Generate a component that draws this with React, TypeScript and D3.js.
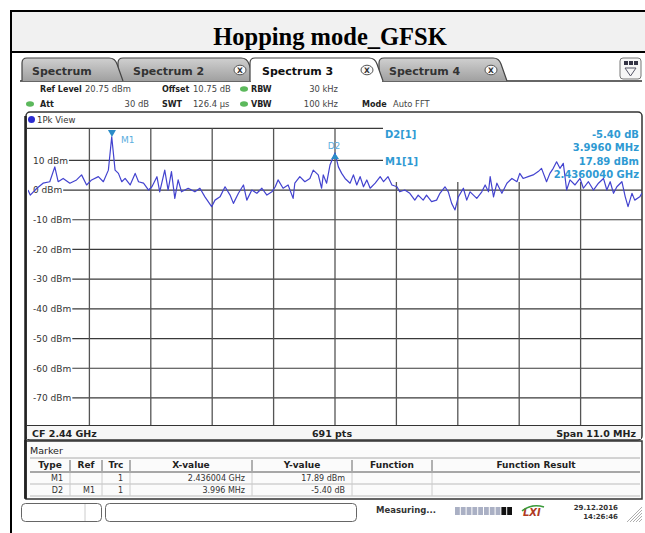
import React from "react";
import * as d3 from "d3";

// ---- data ----
const freqMHz = [
  2434.5, 2434.54, 2434.66, 2434.77, 2434.89, 2434.98, 2435.04, 2435.13, 2435.25, 2435.37,
  2435.46, 2435.55, 2435.64, 2435.76, 2435.85, 2435.94, 2436.0, 2436.06, 2436.12, 2436.18,
  2436.24, 2436.33, 2436.42, 2436.48, 2436.57, 2436.66, 2436.72, 2436.81, 2436.86, 2436.95,
  2437.01, 2437.07, 2437.13, 2437.19, 2437.25, 2437.37, 2437.49, 2437.58, 2437.67, 2437.79,
  2437.85, 2437.94, 2438.03, 2438.12, 2438.18, 2438.27, 2438.36, 2438.42, 2438.51, 2438.6,
  2438.69, 2438.78, 2438.87, 2438.93, 2438.98, 2439.07, 2439.16, 2439.25, 2439.28, 2439.37,
  2439.46, 2439.55, 2439.61, 2439.7, 2439.76, 2439.79, 2439.85, 2439.91, 2440.0, 2440.06,
  2440.12, 2440.18, 2440.27, 2440.33, 2440.39, 2440.45, 2440.51, 2440.57, 2440.63, 2440.72,
  2440.81, 2440.87, 2440.95, 2441.02, 2441.11, 2441.16, 2441.25, 2441.34, 2441.43, 2441.49,
  2441.58, 2441.64, 2441.73, 2441.82, 2441.88, 2441.97, 2442.03, 2442.09, 2442.15, 2442.21,
  2442.3, 2442.36, 2442.42, 2442.48, 2442.54, 2442.63, 2442.69, 2442.75, 2442.78, 2442.84,
  2442.9, 2442.99, 2443.08, 2443.17, 2443.26, 2443.31, 2443.37, 2443.46, 2443.55, 2443.64,
  2443.7, 2443.79, 2443.85, 2443.91, 2443.97, 2444.03, 2444.09, 2444.15, 2444.21, 2444.3,
  2444.39, 2444.45, 2444.54, 2444.63, 2444.72, 2444.81, 2444.87, 2444.93, 2444.99, 2445.05,
  2445.14, 2445.2, 2445.25, 2445.32, 2445.37, 2445.46, 2445.5,
];
const levelDbm = [
  0.0, -1.7, 0.6, 2.3, 2.8, 7.8, 2.8, 3.9, 2.3, 3.4,
  5.1, 1.7, 3.4, 4.5, 2.8, 6.7, 17.89, 6.7, 5.6, 2.8,
  3.9, 1.7, 5.6, 2.8, 2.3, 0.0, 1.1, 4.5, -0.6, 6.7,
  0.0, 6.2, -2.8, 3.4, -0.6, 0.6, -0.6, 0.6, -2.3, -5.6,
  -3.4, -2.3, 1.1, -1.7, -4.5, -1.1, 1.7, -3.4, 0.0, -1.1,
  0.6, -1.7, -0.6, 1.1, 3.4, 0.6, 1.7, -2.8, 2.3, 4.5,
  2.8, 3.9, 6.7, 5.1, 0.6, 5.1, 2.3, 8.4, 12.49, 7.8,
  5.6, 3.9, 2.3, 5.1, 1.7, 4.5, 1.1, 3.4, 0.6, 2.3,
  4.5, 2.8, 4.5, 1.7, 1.1, -0.6, 0.0, -1.1, -3.4, -1.7,
  -3.4, -1.7, -3.9, -3.4, -1.1, 1.1, -0.6, -4.5, -6.7, -2.3,
  0.6, -3.4, -0.6, -1.7, -2.8, -0.6, 1.7, -0.6, 4.5, -2.3,
  2.3, -1.1, 2.3, 3.9, 2.8, 5.6, 3.9, 4.5, 5.1, 6.2,
  7.3, 2.8, 5.6, 7.3, 9.5, 7.3, 9.0, 0.0, 3.4, 1.7,
  3.9, 0.6, 2.8, 0.0, 2.3, 3.9, 0.0, 2.8, -1.1, 1.1,
  2.8, -2.3, -5.6, -1.1, -3.4, -2.3, -1.0,
];
const yTickValues = [10, 0, -10, -20, -30, -40, -50, -60, -70];
const refLevel = 20.75;
const rangeDb = 100;
const centerMHz = 2440;
const spanMHz = 11;
const xDivisions = 10;
const markerNames = ["M1", "D2"];
const markerFreqMHz = [2436.004, 2440.0];
const markerLevels = [17.89, 12.49];
const markerInfoLeft = ["D2[1]", "", "M1[1]", ""];
const markerInfoRight = ["-5.40 dB", "3.9960 MHz", "17.89 dBm", "2.4360040 GHz"];
const tabLabels = ["Spectrum", "Spectrum 2", "Spectrum 3", "Spectrum 4"];
const tableHeaders = ["Type", "Ref", "Trc", "X-value", "Y-value", "Function", "Function Result"];
const tableRows = [
  ["M1", "", "1", "2.436004 GHz", "17.89 dBm", "", ""],
  ["D2", "M1", "1", "3.996 MHz", "-5.40 dB", "", ""],
];

const SANS = "DejaVu Sans, Verdana, sans-serif";
const TRACE = "#4343cf";
const MARK = "#2f9ad3";

export default function App() {
  const x = d3.scaleLinear().domain([centerMHz - spanMHz / 2, centerMHz + spanMHz / 2]).range([28, 642]);
  const y = d3.scaleLinear().domain([refLevel - rangeDb, refLevel]).range([425.4, 128.4]);
  const pts: [number, number][] = [];
  const n = Math.min(freqMHz.length, levelDbm.length);
  for (let i = 0; i < n; i++) pts.push([freqMHz[i], levelDbm[i]]);
  const line = d3.line<[number, number]>().x((d) => x(d[0])).y((d) => y(d[1]));
  const vGrid = d3.range(1, xDivisions).map((i) => centerMHz - spanMHz / 2 + (i * spanMHz) / xDivisions);

  const tabs = [
    { x0: 22, x1: 123 },
    { x0: 118, x1: 255 },
    { x0: 250, x1: 383 },
    { x0: 379, x1: 507 },
  ];
  const tabPath = (x0: number, x1: number) =>
    `M${x0},81 L${x0},63 Q${x0},58 ${x0 + 5},58 L${x1 - 14},58 Q${x1 - 8},58 ${x1 - 6},64 L${x1},81`;

  const colX = [30, 70, 102, 130, 252, 352, 432, 640];
  const colAlign = ["end", "end", "end", "end", "end", "middle", "middle"];

  return (
    <svg
      width={645}
      height={533}
      style={{ position: "absolute", left: 0, top: 0, background: "#fff" }}
      fontFamily={SANS}
    >
      <defs>
        <linearGradient id="tabg" x1="0" x2="0" y1="0" y2="1">
          <stop offset="0" stopColor="#d0d0d0" />
          <stop offset="1" stopColor="#a0a0a0" />
        </linearGradient>
        <clipPath id="plotclip">
          <rect x={28} y={128.4} width={614} height={297} />
        </clipPath>
      </defs>

      {/* Outer document frame and title */}
      <rect x={11} y={11} width={640} height={40} fill="#f1f1f1" />
      <rect x={11} y={11} width={640} height={530} fill="none" stroke="#000" strokeWidth={2} />
      <line x1={11} x2={651} y1={52} y2={52} stroke="#000" strokeWidth={2} />
      <text x={330} y={45} textAnchor="middle" fontFamily="Liberation Serif, Times New Roman, serif" fontWeight="bold" fontSize={24.5}>
        Hopping mode_GFSK
      </text>

      {/* Tabs */}
      <line x1={20} x2={642} y1={81} y2={81} stroke="#333" strokeWidth={1.5} />
      {[3, 1, 0].map((i) => (
        <path key={i} d={tabPath(tabs[i].x0, tabs[i].x1)} fill="url(#tabg)" stroke="#444" strokeWidth={1.2} />
      ))}
      <path d={tabPath(tabs[2].x0, tabs[2].x1)} fill="#fff" stroke="#444" strokeWidth={1.2} />
      <rect x={tabs[2].x0 + 1} y={80} width={tabs[2].x1 - tabs[2].x0 - 2} height={3} fill="#fff" />
      {tabLabels.map((t, i) => (
        <text key={t} x={[32, 133, 262, 389][i]} y={75} fontSize={11} fontWeight="bold" fill={i === 2 ? "#111" : "#333"}>
          {t}
        </text>
      ))}
      {[240, 367, 491].map((cx) => (
        <g key={cx}>
          <ellipse cx={cx} cy={70} rx={6} ry={4.8} fill="#fafafa" stroke="#555" strokeWidth={1} />
          <text x={cx} y={73} fontSize={7.5} textAnchor="middle" fontWeight="bold" fill="#333">
            X
          </text>
        </g>
      ))}
      <rect x={620} y={58} width={21} height={21} rx={3} fill="#f6f6f6" stroke="#777" strokeWidth={1} />
      {[624, 629, 634].map((sx) => (
        <rect key={sx} x={sx} y={61} width={4} height={4} fill="#334" />
      ))}
      <path d="M625,68 L636,68 L630.5,76 Z" fill="none" stroke="#556" strokeWidth={1} />

      {/* Setting lines */}
      <g fontSize={8.4} fill="#444">
        <text x={40} y={92} fontWeight="bold" fontSize={8} fill="#222">Ref Level</text>
        <text x={85} y={92}>20.75 dBm</text>
        <text x={162} y={92} fontWeight="bold" fontSize={8} fill="#222">Offset</text>
        <text x={193} y={92}>10.75 dB</text>
        <text x={251} y={92} fontWeight="bold" fontSize={8} fill="#222">RBW</text>
        <text x={338} y={92} textAnchor="end">30 kHz</text>
        <text x={40} y={107} fontWeight="bold" fontSize={8} fill="#222">Att</text>
        <text x={149} y={107} textAnchor="end">30 dB</text>
        <text x={162} y={107} fontWeight="bold" fontSize={8} fill="#222">SWT</text>
        <text x={193} y={107}>126.4 µs</text>
        <text x={251} y={107} fontWeight="bold" fontSize={8} fill="#222">VBW</text>
        <text x={338} y={107} textAnchor="end">100 kHz</text>
        <text x={362} y={107} fontWeight="bold" fontSize={8} fill="#222">Mode</text>
        <text x={393} y={107}>Auto FFT</text>
      </g>
      <ellipse cx={244} cy={89} rx={4} ry={2.8} fill="#5cb85c" />
      <ellipse cx={244} cy={104} rx={4} ry={2.8} fill="#5cb85c" />
      <ellipse cx={30} cy={104} rx={4} ry={2.8} fill="#5cb85c" />

      {/* Plot panel */}
      <rect x={26} y={112} width={616} height={328} rx={4} fill="#fff" stroke="#333" strokeWidth={1.5} />
      <line x1={25.5} x2={25.5} y1={116} y2={498} stroke="#222" strokeWidth={2.5} />
      <circle cx={31.5} cy={119.5} r={3.5} fill="#2b2bd0" />
      <text x={37} y={123} fontSize={8.5} fill="#333">1Pk View</text>

      {/* horizontal grid + labels */}
      {yTickValues.map((v) => {
        const lab = `${v} dBm`;
        const w = String(Math.abs(v)).length * 5.7 + (v < 0 ? 3.4 : 0) + 23.5;
        const endX = v === 10 ? 383 : 642;
        return (
          <g key={v}>
            <line x1={33 + w + 1} x2={endX} y1={y(v)} y2={y(v)} stroke="#3a3a3a" strokeWidth={1.2} />
            <text x={33} y={y(v) + 3.3} fontSize={9} fill="#333">
              {lab}
            </text>
          </g>
        );
      })}
      <line x1={26} x2={383} y1={y(refLevel)} y2={y(refLevel)} stroke="#3a3a3a" strokeWidth={1.2} />
      {vGrid.map((f) => (
        <line
          key={f}
          x1={x(f)}
          x2={x(f)}
          y1={x(f) > 383 ? 182 : y(refLevel)}
          y2={425}
          stroke="#555"
          strokeWidth={1.3}
        />
      ))}

      {/* marker info */}
      <g fontSize={10} fontWeight="bold" fill={MARK}>
        {markerInfoLeft.map((t, i) => (
          <text key={"l" + i} x={385} y={138 + i * 13.4}>
            {t}
          </text>
        ))}
        {markerInfoRight.map((t, i) => (
          <text key={"r" + i} x={639} y={138 + i * 13.4} textAnchor="end">
            {t}
          </text>
        ))}
      </g>

      {/* trace */}
      <path d={line(pts) || ""} fill="none" stroke={TRACE} strokeWidth={1.2} clipPath="url(#plotclip)" strokeLinejoin="round" />

      {/* markers */}
      {markerNames.map((m, i) => {
        const mx = x(markerFreqMHz[i]);
        const my = y(markerLevels[i]);
        return i === 0 ? (
          <g key={m}>
            <path d={`M${mx - 4},${my - 7} L${mx + 4},${my - 7} L${mx},${my} Z`} fill="#2a8cc8" />
            <text x={mx + 9} y={my + 6} fontSize={9} fill="#5aaede">{m}</text>
          </g>
        ) : (
          <g key={m}>
            <path d={`M${mx - 4},${my + 6} L${mx + 4},${my + 6} L${mx},${my} Z`} fill="#2a8cc8" />
            <text x={mx - 1} y={my - 4} fontSize={9} fill="#5aaede" textAnchor="middle">{m}</text>
          </g>
        );
      })}

      {/* status of plot */}
      <rect x={27} y={426} width={614} height={13} fill="#f6f6f6" />
      <line x1={26} x2={642} y1={425.5} y2={425.5} stroke="#333" strokeWidth={1.2} />
      <text x={32} y={437} fontSize={9.5} fontWeight="bold" fill="#222">CF 2.44 GHz</text>
      <text x={332} y={437} fontSize={9.5} fontWeight="bold" fill="#222" textAnchor="middle">691 pts</text>
      <text x={636} y={437} fontSize={9.5} fontWeight="bold" fill="#222" textAnchor="end">Span 11.0 MHz</text>

      {/* Marker table panel */}
      <rect x={26} y={441} width={616} height={58} fill="#fbfbfb" stroke="#333" strokeWidth={1.5} />
      <line x1={25.5} x2={25.5} y1={440} y2={499} stroke="#222" strokeWidth={2.5} />
      <text x={30} y={454} fontSize={9.5} fill="#222">Marker</text>
      <line x1={30} x2={640} y1={458} y2={458} stroke="#aaa" strokeWidth={1} />
      <line x1={30} x2={640} y1={472} y2={472} stroke="#555" strokeWidth={1.2} />
      <line x1={30} x2={640} y1={484} y2={484} stroke="#bbb" strokeWidth={1} />
      <line x1={30} x2={640} y1={496} y2={496} stroke="#bbb" strokeWidth={1} />
      {colX.slice(1, -1).map((cx) => (
        <g key={cx}>
          <line x1={cx} x2={cx} y1={460} y2={471} stroke="#666" strokeWidth={1} />
          <line x1={cx} x2={cx} y1={473} y2={496} stroke="#ccc" strokeWidth={1} />
        </g>
      ))}
      {tableHeaders.map((h, i) => (
        <text key={h} x={(colX[i] + colX[i + 1]) / 2} y={468} fontSize={9} fontWeight="bold" fill="#222" textAnchor="middle">
          {h}
        </text>
      ))}
      {tableRows.map((row, r) =>
        row.map((c, i) =>
          c ? (
            <text
              key={r + "-" + i}
              x={colAlign[i] === "end" ? colX[i + 1] - 7 : (colX[i] + colX[i + 1]) / 2}
              y={481 + r * 12}
              fontSize={8}
              fill="#333"
              textAnchor={colAlign[i] as any}
            >
              {c}
            </text>
          ) : null
        )
      )}

      {/* bottom status bar */}
      <rect x={21.5} y={503.5} width={80} height={18} rx={4} fill="#fff" stroke="#666" strokeWidth={1} />
      <line x1={85} x2={85} y1={504} y2={521} stroke="#ccc" strokeWidth={1} />
      <rect x={105.5} y={503.5} width={251} height={18} rx={4} fill="#fff" stroke="#666" strokeWidth={1} />
      <text x={376} y={513} fontSize={8.5} fontWeight="bold" fill="#333">Measuring...</text>
      {d3.range(10).map((i) => (
        <rect key={i} x={455 + i * 5.8} y={507} width={4.8} height={8} fill={i >= 8 ? "#111" : "#aab0c4"} />
      ))}
      <text x={523} y={516} fontSize={10} fontStyle="italic" fontWeight="bold" fill="#b03a24">LXI</text>
      <path d="M522,511 Q532,503 544,507" fill="none" stroke="#3a9a3a" strokeWidth={1.5} />
      <text x={618} y={510} fontSize={7} fontWeight="bold" fill="#333" textAnchor="end">29.12.2016</text>
      <text x={618} y={519} fontSize={7} fontWeight="bold" fill="#333" textAnchor="end">14:26:46</text>
      {d3.range(5).map((i) => (
        <line key={i} x1={627 + i * 3} y1={522} x2={642} y2={507 + i * 3} stroke="#999" strokeWidth={0.8} />
      ))}
    </svg>
  );
}
